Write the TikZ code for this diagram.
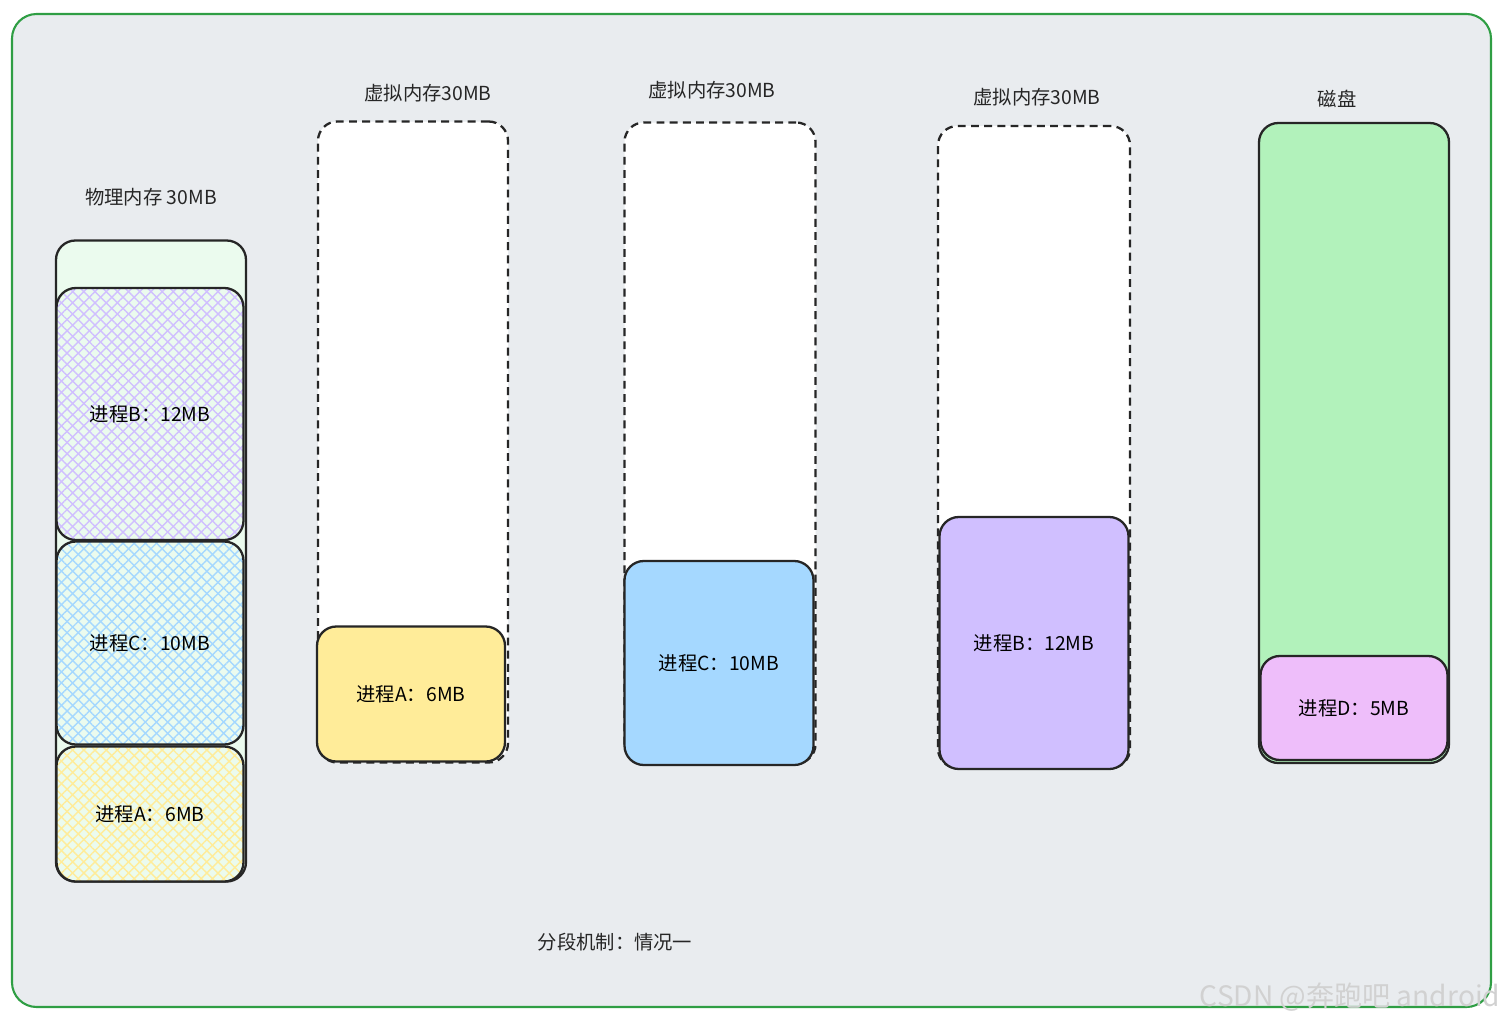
\documentclass[tikz,border=0pt]{standalone}
\usepackage{fontspec}
\newfontfamily\cjk{Noto Sans CJK SC}
\usetikzlibrary{positioning,patterns.meta}

\definecolor{bgGray}{HTML}{E9ECEF}
\definecolor{frameGreen}{HTML}{2F9E44}
\definecolor{physGreen}{HTML}{EBFBEE}
\definecolor{procAyellow}{HTML}{FFEC99}
\definecolor{procBviolet}{HTML}{D0BFFF}
\definecolor{procCblue}{HTML}{A5D8FF}
\definecolor{procDpink}{HTML}{EEBEFA}
\definecolor{diskGreen}{HTML}{B2F2BB}

\newcommand{\pxu}{0.02cm}

\begin{document}
\begin{tikzpicture}[
    x=0.02cm, y=-0.02cm,
    font=\cjk\fontsize{11}{13}\selectfont,
    every node/.style={align=center},
    seg/.style={rectangle, rounded corners=11pt, draw=black!85, line width=1.3pt, inner sep=0pt},
    vmem/.style={seg, fill=white, dash pattern=on 4.5pt off 3pt},
    hatch/.style={seg, preaction={fill=physGreen},
        preaction={pattern={Lines[angle=45,distance=4.5pt,line width=0.8pt]}, pattern color=#1},
        preaction={pattern={Lines[angle=-45,distance=4.5pt,line width=0.8pt]}, pattern color=#1}},
    title/.style={font=\cjk\fontsize{11}{13}\selectfont, text=black!85}
]

\useasboundingbox (0,0) rectangle (1507,1024);
\draw[frameGreen, fill=bgGray, line width=1.2pt, rounded corners=14pt] (12,14) rectangle (1491,1007);

% =========================================================
% Physical memory
% =========================================================
\node[seg, fill=physGreen, minimum width=190*\pxu, minimum height=641*\pxu] (phys) at (151,561) {};
\node[hatch=procBviolet, minimum width=187*\pxu, minimum height=252*\pxu] (physB) at (150,414) {进程B：12MB};
\node[hatch=procCblue,   minimum width=187*\pxu, minimum height=203*\pxu] (physC) at (150,643) {进程C：10MB};
\node[hatch=procAyellow, minimum width=187*\pxu, minimum height=135*\pxu] (physA) at (150,814) {进程A：6MB};
\node[title, above=0.54cm of phys] (phys_t) {物理内存 30MB};

% =========================================================
% Virtual memory of A, C, B
% =========================================================
\node[vmem, minimum width=190*\pxu, minimum height=641*\pxu] (vmA) at (413,442) {};
\node[seg, fill=procAyellow, minimum width=188*\pxu, minimum height=135*\pxu] (procA) at (411,694) {进程A：6MB};
\node[title, above=0.24cm of vmA, xshift=15*\pxu] (vmA_t) {虚拟内存30MB};

\node[vmem, minimum width=191*\pxu, minimum height=641*\pxu] (vmC) at (720,443) {};
\node[seg, fill=procCblue, minimum width=189*\pxu, minimum height=204*\pxu] (procC) at (719,663) {进程C：10MB};
\node[title, above=0.32cm of vmC, xshift=-8*\pxu] (vmC_t) {虚拟内存30MB};

\node[vmem, minimum width=192*\pxu, minimum height=642*\pxu] (vmB) at (1034,447) {};
\node[seg, fill=procBviolet, minimum width=189*\pxu, minimum height=252*\pxu] (procB) at (1034,643) {进程B：12MB};
\node[title, above=0.26cm of vmB, xshift=3*\pxu] (vmB_t) {虚拟内存30MB};

% =========================================================
% Disk
% =========================================================
\node[seg, fill=diskGreen, minimum width=190*\pxu, minimum height=640*\pxu] (disk) at (1354,443) {};
\node[seg, fill=procDpink, minimum width=187*\pxu, minimum height=104*\pxu] (procD) at (1354,708) {进程D：5MB};
\node[title, above=0.16cm of disk, xshift=-17*\pxu] (disk_t) {磁盘};

% =========================================================
% Caption
% =========================================================
\node[title] (caption) at (615,942) {分段机制：情况一};
\node[font=\cjk\fontsize{16}{18}\selectfont, text=white!82!black] (mark) at (1350,997) {CSDN @奔跑吧 android};

\end{tikzpicture}
\end{document}
